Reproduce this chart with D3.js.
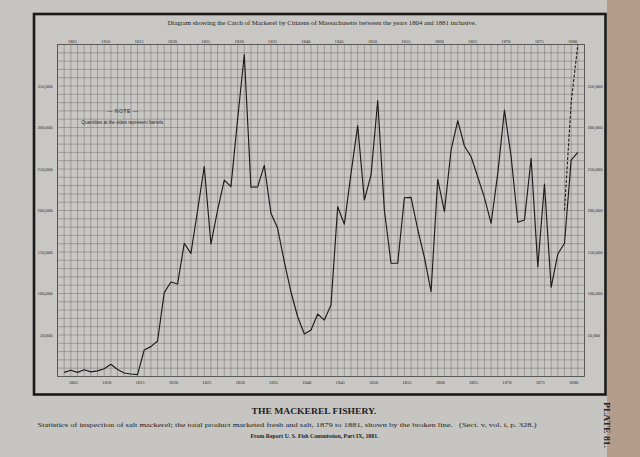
<!DOCTYPE html>
<html><head><meta charset="utf-8">
<script src="https://cdn.jsdelivr.net/npm/d3@7"></script>
<style>html,body{margin:0;padding:0;background:#c7c5c2;} svg{display:block}</style>
</head><body>
<svg id="chart" width="640" height="457"></svg>
<script>
// ---- data (barrels) ----
const years = [1804,1805,1806,1807,1808,1809,1810,1811,1812,1813,1814,1815,1816,1817,1818,1819,1820,1821,1822,1823,1824,1825,1826,1827,1828,1829,1830,1831,1832,1833,1834,1835,1836,1837,1838,1839,1840,1841,1842,1843,1844,1845,1846,1847,1848,1849,1850,1851,1852,1853,1854,1855,1856,1857,1858,1859,1860,1861,1862,1863,1864,1865,1866,1867,1868,1869,1870,1871,1872,1873,1874,1875,1876,1877,1878,1879,1880,1881];
const catchBarrels = [5000,7500,5000,8200,5600,6800,9400,14700,8500,4200,3000,2200,32000,36000,42800,101000,113900,111400,160500,148400,200000,252800,159600,200600,236700,228700,310000,388000,228000,228500,254400,196600,178500,138000,101800,72000,51200,56000,75300,68000,86100,204600,183400,244800,302200,212600,242800,332300,200600,136400,136400,215400,215900,177100,143500,102200,237600,198600,272900,308200,277700,264800,240400,215500,184600,244800,321100,264800,185800,188600,262900,132300,231900,107500,147600,160500,260800,270100];
const totalYears = [1879,1880,1881];
const totalBarrels = [200000,330000,400000];
const valueTicks = [50000,100000,150000,200000,250000,300000,350000];
const yearTicks = [1805,1810,1815,1820,1825,1830,1835,1840,1845,1850,1855,1860,1865,1870,1875,1880];
const titleText = "Diagram showing the Catch of Mackerel by Citizens of Massachusetts between the years 1804 and 1881 inclusive.";
const noteHead = "\u2014 NOTE \u2014";
const noteText = "Quantities at the sides represent barrels.";
const captionHead = "THE MACKEREL FISHERY.";
const captionText = "Statistics of inspection of salt mackerel; the total product marketed fresh and salt, 1879 to 1881, shown by the broken line.   (Sect. v, vol. i, p. 328.)";
const sourceText = "From Report U. S. Fish Commission, Part IX, 1881.";
const plateText = "PLATE 81.";

// ---- drawing ----
const svg = d3.select("#chart");
const x = d3.scaleLinear().domain([1803, 1882]).range([57.5, 584.5]);
const y = d3.scaleLinear().domain([0, 400000]).range([376.5, 44.5]);

// paper background and tan edge on right
svg.append("rect").attr("x",0).attr("y",0).attr("width",640).attr("height",457).attr("fill","#c7c5c2");
svg.append("rect").attr("x",607).attr("y",0).attr("width",33).attr("height",457).attr("fill","#b49c8a");

// outer frame
svg.append("rect").attr("x",34).attr("y",14).attr("width",571.5).attr("height",380.5)
  .attr("fill","#c9c7c4").attr("stroke","#1a1a1a").attr("stroke-width",2.6);

// grid
const g = svg.append("g");
const gridYears = d3.range(1803, 1883);
g.selectAll("line.v").data(gridYears).join("line")
  .attr("x1",d=>x(d)).attr("x2",d=>x(d)).attr("y1",y(400000)).attr("y2",y(0))
  .attr("stroke","#6e6e6e").attr("stroke-width",0.5);
const gridVals = d3.range(0, 400001, 10000);
g.selectAll("line.h").data(gridVals).join("line")
  .attr("x1",x(1803)).attr("x2",x(1882)).attr("y1",d=>y(d)).attr("y2",d=>y(d))
  .attr("stroke","#6e6e6e").attr("stroke-width",0.5);
g.append("rect").attr("x",x(1803)).attr("y",y(400000)).attr("width",x(1882)-x(1803)).attr("height",y(0)-y(400000))
  .attr("fill","none").attr("stroke","#4a4a4a").attr("stroke-width",0.8);

// axes labels
const axisFont = "Liberation Serif, DejaVu Serif, serif";
const la = svg.append("g").attr("transform",`translate(${x(1803)},0)`)
  .call(d3.axisLeft(y).tickValues(valueTicks).tickSize(0).tickPadding(5).tickFormat(d3.format(",")));
const ra = svg.append("g").attr("transform",`translate(${x(1882)},0)`)
  .call(d3.axisRight(y).tickValues(valueTicks).tickSize(0).tickPadding(3).tickFormat(d3.format(",")));
const ba = svg.append("g").attr("transform",`translate(0,${y(0)})`)
  .call(d3.axisBottom(x).tickValues(yearTicks).tickSize(0).tickPadding(4).tickFormat(d3.format("d")));
const ta = svg.append("g").attr("transform",`translate(0,${y(400000)})`)
  .call(d3.axisTop(x).tickValues(yearTicks).tickSize(0).tickPadding(2).tickFormat(d3.format("d")));
[la,ra,ba,ta].forEach(a=>{
  a.select(".domain").remove();
  a.selectAll("text").attr("font-family",axisFont).attr("font-size",4.6).attr("fill","#2a2a2a");
});
ba.selectAll("text").attr("dx",2);
ta.selectAll("text").attr("dx",1);

// data lines
const line = d3.line().x(d=>x(d[0])).y(d=>y(d[1]));
svg.append("path").datum(years.map((yr,i)=>[yr,catchBarrels[i]]))
  .attr("d",line).attr("fill","none").attr("stroke","#1c1c1c").attr("stroke-width",1.15).attr("stroke-linejoin","round");
svg.append("path").datum(totalYears.map((yr,i)=>[yr,totalBarrels[i]]))
  .attr("d",line).attr("fill","none").attr("stroke","#1c1c1c").attr("stroke-width",1.1).attr("stroke-dasharray","3,1.6");

// note
svg.append("text").attr("x",x(1812.8)).attr("y",y(317000)).attr("text-anchor","middle")
  .attr("font-family","Liberation Sans, Arial, sans-serif").attr("font-size",5).attr("letter-spacing",0.6).attr("fill","#2a2a2a").text(noteHead);
svg.append("text").attr("x",x(1812.8)).attr("y",y(304500)).attr("text-anchor","middle")
  .attr("font-family","Liberation Sans, Arial, sans-serif").attr("font-size",4.8).attr("fill","#2a2a2a")
  .attr("textLength",83).attr("lengthAdjust","spacingAndGlyphs").text(noteText);

// title
svg.append("text").attr("x",322).attr("y",24.5).attr("text-anchor","middle")
  .attr("font-family",axisFont).attr("font-size",7).attr("fill","#222")
  .attr("textLength",309).attr("lengthAdjust","spacingAndGlyphs").text(titleText);

// captions
svg.append("text").attr("x",314).attr("y",414).attr("text-anchor","middle")
  .attr("font-family",axisFont).attr("font-size",8.5).attr("font-weight","bold").attr("fill","#1e1e1e")
  .attr("textLength",125).attr("lengthAdjust","spacingAndGlyphs").text(captionHead);
svg.append("text").attr("x",287).attr("y",426.5).attr("text-anchor","middle")
  .attr("font-family",axisFont).attr("font-size",7).attr("fill","#222").attr("xml:space","preserve")
  .attr("textLength",499).attr("lengthAdjust","spacingAndGlyphs").text(captionText);
svg.append("text").attr("x",314.5).attr("y",437.8).attr("text-anchor","middle")
  .attr("font-family",axisFont).attr("font-size",5.2).attr("font-weight","bold").attr("fill","#222")
  .attr("textLength",128).attr("lengthAdjust","spacingAndGlyphs").text(sourceText);
svg.append("text").attr("transform","translate(603.5,425) rotate(90)").attr("text-anchor","middle")
  .attr("font-family",axisFont).attr("font-size",7.5).attr("font-weight","bold").attr("fill","#2a2420")
  .attr("textLength",46).attr("lengthAdjust","spacingAndGlyphs").text(plateText);
</script>
</body></html>
